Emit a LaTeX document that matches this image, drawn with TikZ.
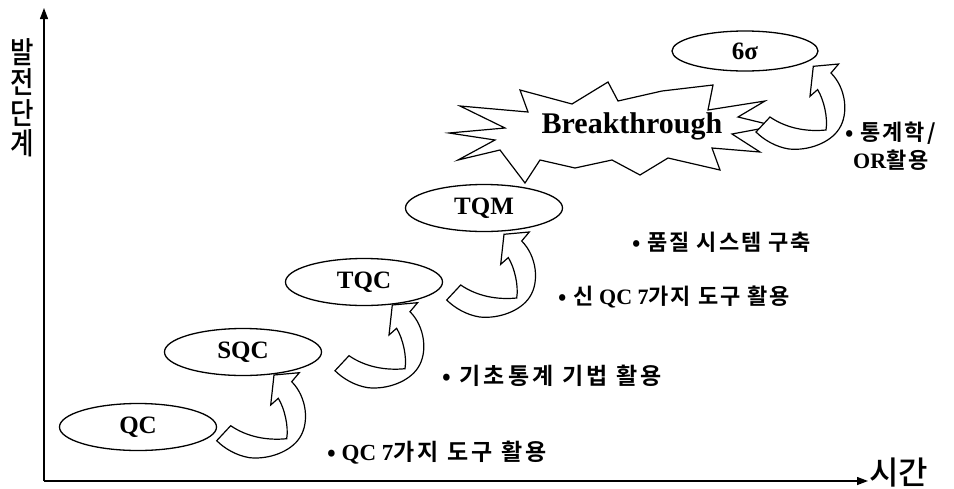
\documentclass[tikz,border=0pt]{standalone}
\usepackage{fontspec}
\setmainfont{Liberation Serif}
\newfontfamily\kr{Noto Sans CJK KR}[BoldFont={Noto Sans CJK KR Bold}, LetterSpace=9]
\newfontfamily\krw{Noto Sans CJK KR}[BoldFont={Noto Sans CJK KR Bold}, LetterSpace=14]
\newfontfamily\krm{Noto Sans CJK KR Medium}
\usetikzlibrary{arrows.meta,shapes.geometric}
\tikzset{
  stage/.style={ellipse, draw, line width=1.3pt, fill=white, inner sep=0pt,
    minimum width=157pt, minimum height=47pt,
    font=\fontsize{25}{25}\selectfont\bfseries},
  lbl/.style={anchor=west, inner sep=0pt, font=\fontsize{22}{22}\selectfont\bfseries},
  lblw/.style={anchor=west, inner sep=0pt, font=\fontsize{23}{23}\selectfont\bfseries},
  curv/.style={draw, line width=1.2pt, fill=white, line join=miter},
  axis/.style={line width=1.3pt, -{Triangle[length=11pt,width=8pt]}},
  curvedarrow/.pic={
    \draw[curv] (0,0) -- (14,-15) .. controls (30,-4) and (50,0) .. (70,-2)
      .. controls (72,-14) and (68,-32) .. (61.6,-42.4) -- (54,-35.7)
      -- (57.3,-65.7) -- (82.6,-68) -- (75,-59)
      .. controls (90,-44) and (93,-18) .. (83,-3)
      .. controls (74,11) and (52,19) .. (33,17)
      .. controls (20,15) and (8,8) .. cycle;
  }
}
\begin{document}
\begin{tikzpicture}[x=1pt,y=-1pt]
\useasboundingbox (0,0) rectangle (954,488);
% axes
\coordinate (origin) at (44,481);
\coordinate (ytop) at (44,8);
\coordinate (xend) at (868,481);
\draw[axis] (origin) -- (ytop);
\draw[axis] (origin) -- (xend);
\node[font=\krm\fontsize{32}{32}\selectfont, anchor=west, inner sep=0pt] (time) at (869,473) {시간};
\node[font=\krm\fontsize{30}{30.5}\selectfont, align=center, inner sep=0pt, xscale=0.85] (stage) at (22,98) {발\\전\\단\\계};
% breakthrough star
\draw[line width=1.2pt, fill=white, line join=miter]
  (449,133) -- (505,128) -- (460,106) -- (528,112) -- (520,90) -- (572,104)
  -- (608,82) -- (618,101) -- (662,91) -- (713,85) -- (708,110) -- (765,101)
  -- (738,117) -- (775,126) -- (732,134) -- (760,152) -- (712,148) -- (720,170)
  -- (668,158) -- (640,175) -- (612,160) -- (575,168) -- (540,160) -- (525,183)
  -- (500,150) -- (458,160) -- (495,140) -- cycle;
\node[font=\fontsize{30}{30}\selectfont\bfseries, inner sep=0pt] (bt) at (632,126) {Breakthrough};
% curved arrows
\pic at (216.7,440.7) {curvedarrow};
\pic at (335,370.7) {curvedarrow};
\pic at (446.7,300) {curvedarrow};
\pic at (756,132) {curvedarrow};
% stages
\node[stage] (qc) at (138,427) {QC};
\node[stage] (sqc) at (243,352) {SQC};
\node[stage] (tqc) at (364,282) {TQC};
\node[stage] (tqm) at (484,208) {TQM};
\node[stage, minimum width=146pt, minimum height=40pt] (six) at (745,51) {6σ};
% labels
\node[lblw] (l1) at (327,453) {{\krw •} QC 7{\krw 가지 도구 활용}};
\node[lblw] (l2) at (442,376) {{\krw • 기초통계 기법 활용}};
\node[lbl] (l3) at (558,297) {{\kr • 신} QC 7{\kr 가지 도구 활용}};
\node[lbl] (l4) at (632,242) {{\kr • 품질 시스템 구축}};
\node[lbl] (l5) at (845,133) {{\kr • 통계학/}};
\node[lbl] (l6) at (853,160) {OR{\kr 활용}};
\end{tikzpicture}
\end{document}
